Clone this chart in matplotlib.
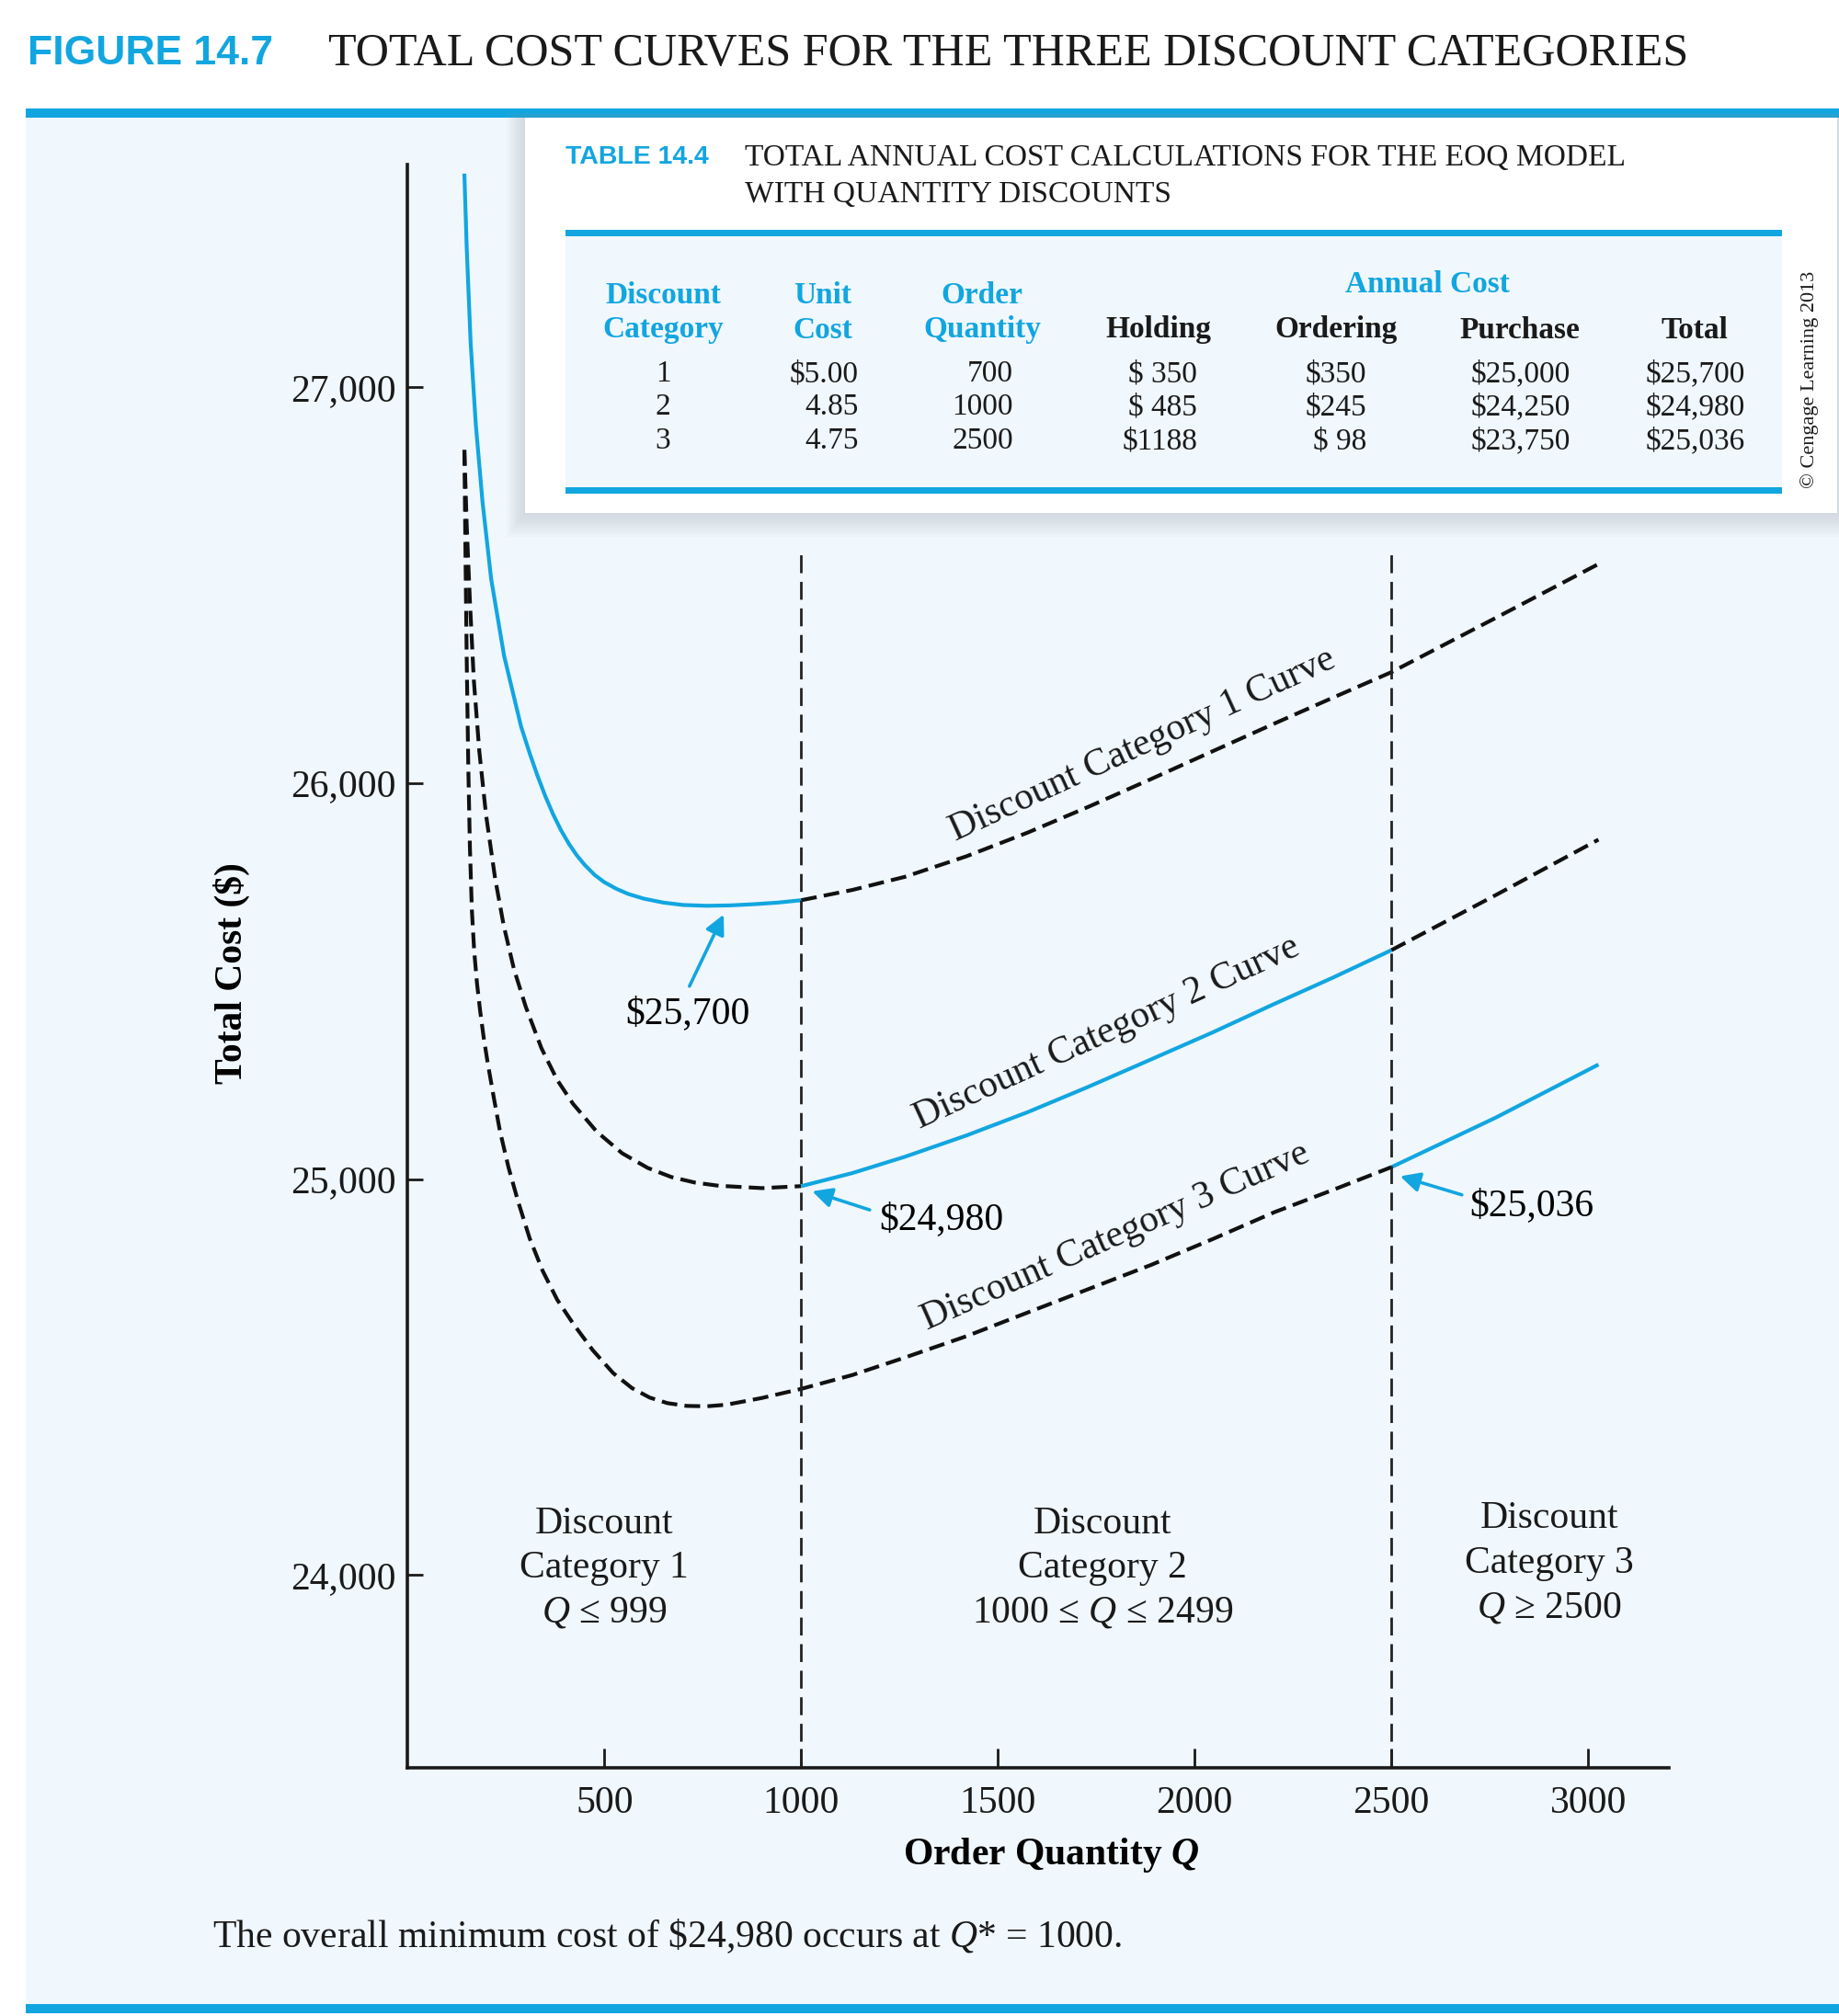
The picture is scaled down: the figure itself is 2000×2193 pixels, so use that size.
import matplotlib
matplotlib.use('Agg')
import matplotlib.pyplot as plt
from matplotlib.patches import Rectangle

plt.rcParams['font.family'] = ['Liberation Serif', 'DejaVu Serif']
plt.rcParams['mathtext.fontset'] = 'custom'
plt.rcParams['mathtext.rm'] = 'Liberation Serif'
plt.rcParams['mathtext.it'] = 'Liberation Serif:italic'
plt.rcParams['mathtext.bf'] = 'Liberation Serif:bold'
if 'mathtext.bfit' in plt.rcParams:
    plt.rcParams['mathtext.bfit'] = 'Liberation Serif:italic:bold'
    BOLD_Q = r'$\mathbfit{Q}$'
else:
    BOLD_Q = r'$\mathit{Q}$'

BLUE = '#12A6E0'
LIGHT = '#F0F7FD'
SANS = ['Liberation Sans', 'DejaVu Sans']

# ---- curve readings (order quantity Q, total cost $) ----
cat1_q_solid = [144, 150, 160, 173, 190, 212, 245, 288, 310, 330, 350, 370,
                390, 410, 430, 450, 475, 499, 530, 560, 600, 650, 700, 760,
                820, 880, 940, 1000]
cat1_tc_solid = [27539, 27350, 27110, 26906, 26711, 26516, 26321, 26143, 26075,
                 26018, 25966, 25920, 25880, 25846, 25817, 25793, 25768, 25750,
                 25733, 25720, 25708, 25698, 25692, 25690, 25691, 25694, 25698,
                 25704]
cat1_q_dash = [1000, 1130, 1263, 1420, 1576, 1730, 1889, 2045, 2202, 2350,
               2500, 2765, 3026]
cat1_tc_dash = [25704, 25730, 25763, 25815, 25875, 25940, 26010, 26080, 26150,
                26215, 26280, 26417, 26553]

cat2_q_left = [144, 150, 158, 168, 182, 199, 222, 244, 270, 300, 340, 380,
               420, 480, 545, 610, 670, 730, 790, 900, 1000]
cat2_tc_left = [26841, 26650, 26460, 26260, 26080, 25920, 25760, 25640, 25530,
                25435, 25330, 25250, 25190, 25120, 25065, 25028, 25005, 24991,
                24983, 24977, 24982]
cat2_q_solid = [1000, 1130, 1263, 1420, 1576, 1730, 1889, 2045, 2202, 2350, 2500]
cat2_tc_solid = [24982, 25015, 25056, 25110, 25169, 25233, 25302, 25370, 25442,
                 25508, 25578]
cat2_q_right = [2500, 2765, 3026]
cat2_tc_right = [25578, 25717, 25857]

cat3_q_dash = [144, 147, 150, 154, 158, 163, 169, 176, 184, 193, 203, 218, 234,
               256, 280, 310, 343, 380, 421, 470, 522, 570, 615, 660, 709, 760,
               810, 900, 1000, 1130, 1263, 1420, 1576, 1730, 1889, 2045, 2202,
               2350, 2500]
cat3_tc_dash = [26841, 26560, 26310, 26040, 25840, 25680, 25575, 25495, 25425,
                25358, 25295, 25210, 25123, 25030, 24945, 24850, 24768, 24695,
                24634, 24568, 24510, 24472, 24448, 24434, 24427, 24426, 24430,
                24447, 24470, 24505, 24549, 24603, 24663, 24722, 24783, 24848,
                24916, 24972, 25030]
cat3_q_solid = [2500, 2765, 3026]
cat3_tc_solid = [25030, 25155, 25289]

breakpoints = [1000, 2500]
break_top = 26585

x_ticks = [500, 1000, 1500, 2000, 2500, 3000]
y_ticks = [24000, 25000, 26000, 27000]
y_tick_labels = ['24,000', '25,000', '26,000', '27,000']

# ---- table 14.4 ----
table_cat = ['1', '2', '3']
table_unit = ['$5.00', '4.85', '4.75']
table_qty = ['700', '1000', '2500']
table_hold = ['$ 350', '$ 485', '$1188']
table_order = ['$350', '$245', '$ 98']
table_purchase = ['$25,000', '$24,250', '$23,750']
table_total = ['$25,700', '$24,980', '$25,036']

fig = plt.figure(figsize=(20, 21.93), dpi=100)
fig.patch.set_facecolor('white')

# background layer in pixel coordinates
bg = fig.add_axes([0, 0, 1, 1])
bg.set_xlim(0, 2000)
bg.set_ylim(2193, 0)
bg.axis('off')
bg.add_patch(Rectangle((28, 128), 1972, 2052, color=LIGHT, lw=0))
bg.add_patch(Rectangle((28, 118), 1972, 10, color=BLUE, lw=0))
bg.add_patch(Rectangle((28, 2180), 1972, 10, color=BLUE, lw=0))

bg.text(30, 59, 'FIGURE 14.7', family=SANS, weight='bold', size=32,
        color=BLUE, ha='left', va='center')
bg.text(357, 59, 'TOTAL COST CURVES FOR THE THREE DISCOUNT CATEGORIES',
        size=36.1, ha='left', va='center', color='#1a1a1a')

# table box with soft shadow
for i in range(1, 9):
    g = i * 2.5
    bg.add_patch(Rectangle((571 - g, 128 - g * 0.3), 1429 + g, 430 + g * 1.6,
                           color='#8a9099', alpha=0.035, lw=0))
bg.add_patch(Rectangle((571, 128), 1427, 430, color='white', lw=0))
bg.add_patch(Rectangle((615, 253), 1323, 280, color=LIGHT, lw=0))
bg.add_patch(Rectangle((615, 250), 1323, 7, color=BLUE, lw=0))
bg.add_patch(Rectangle((615, 530), 1323, 7, color=BLUE, lw=0))

bg.text(615, 171, 'TABLE 14.4', family=SANS, weight='bold', size=20.5,
        color=BLUE, ha='left', va='center')
bg.text(810, 172, 'TOTAL ANNUAL COST CALCULATIONS FOR THE EOQ MODEL',
        size=24.1, ha='left', va='center', color='#1a1a1a')
bg.text(810, 212, 'WITH QUANTITY DISCOUNTS', size=24.1, ha='left',
        va='center', color='#1a1a1a')

hdr = dict(size=24, weight='bold', ha='center', va='center')
bg.text(721, 322, 'Discount', color=BLUE, **hdr)
bg.text(721, 359, 'Category', color=BLUE, **hdr)
bg.text(895, 322, 'Unit', color=BLUE, **hdr)
bg.text(895, 359, 'Cost', color=BLUE, **hdr)
bg.text(1068, 322, 'Order', color=BLUE, **hdr)
bg.text(1068, 359, 'Quantity', color=BLUE, **hdr)
bg.text(1552, 310, 'Annual Cost', color=BLUE, **hdr)
for xh, name in zip([1260, 1453, 1653, 1843],
                    ['Holding', 'Ordering', 'Purchase', 'Total']):
    bg.text(xh, 359, name, color='#1a1a1a', **hdr)

row_y = [407, 443, 480]
cols = [(table_cat, 721, 'center'), (table_unit, 934, 'right'),
        (table_qty, 1102, 'right'), (table_hold, 1302, 'right'),
        (table_order, 1486, 'right'), (table_purchase, 1708, 'right'),
        (table_total, 1898, 'right')]
for values, xc, ha in cols:
    for yv, v in zip(row_y, values):
        bg.text(xc, yv, v, size=24, ha=ha, va='center', color='#1a1a1a')
bg.text(1968, 413, '\u00a9 Cengage Learning 2013', size=16, rotation=90,
        ha='center', va='center', color='#1a1a1a')

bg.text(231, 2106,
        r'The overall minimum cost of \$24,980 occurs at $Q$* = 1000.',
        size=30, ha='left', va='center', color='#1a1a1a')

# main chart
ax = fig.add_axes([0.2217, 0.1231, 0.686, 0.7953])
ax.set_facecolor('none')
ax.set_xlim(0, 3206)
ax.set_ylim(23513, 27562)
for s in ['top', 'right']:
    ax.spines[s].set_visible(False)
for s in ['left', 'bottom']:
    ax.spines[s].set_linewidth(2.6)
    ax.spines[s].set_color('#1a1a1a')

curve_dash = (0, (4.1, 1.9))
lw = 3.0
ax.plot(cat1_q_solid, cat1_tc_solid, color=BLUE, lw=lw, solid_capstyle='butt')
ax.plot(cat1_q_dash, cat1_tc_dash, color='#111111', lw=lw, ls=curve_dash)
ax.plot(cat2_q_left, cat2_tc_left, color='#111111', lw=lw, ls=curve_dash)
ax.plot(cat2_q_solid, cat2_tc_solid, color=BLUE, lw=lw, solid_capstyle='butt')
ax.plot(cat2_q_right, cat2_tc_right, color='#111111', lw=lw, ls=curve_dash)
ax.plot(cat3_q_dash, cat3_tc_dash, color='#111111', lw=lw, ls=curve_dash)
ax.plot(cat3_q_solid, cat3_tc_solid, color=BLUE, lw=lw, solid_capstyle='butt')

ax.vlines(breakpoints, 23513, break_top, color='#222222', lw=2.0,
          linestyles=[(0, (7.0, 3.4))])

ax.set_xticks(x_ticks)
ax.set_xticklabels([str(t) for t in x_ticks])
ax.set_yticks(y_ticks)
ax.set_yticklabels(y_tick_labels)
ax.tick_params(axis='x', direction='in', length=15, width=2, pad=14,
               labelsize=30, colors='#1a1a1a')
ax.tick_params(axis='y', direction='in', length=12, width=2, pad=9,
               labelsize=30, colors='#1a1a1a')

ax.set_xlabel('Order Quantity ' + BOLD_Q, size=30, weight='bold', va='center')
ax.xaxis.set_label_coords(0.51, -0.0545)
ax.set_ylabel('Total Cost ($)', size=30, weight='bold', va='center')
ax.yaxis.set_label_coords(-0.1395, 0.4954)

# curve labels
lab = dict(size=30, ha='center', va='center', rotation_mode='anchor',
           color='#1a1a1a')
ax.text(1867, 26095, 'Discount Category 1 Curve', rotation=24.6, **lab)
ax.text(1776, 25370, 'Discount Category 2 Curve', rotation=24.6, **lab)
ax.text(1800, 24855, 'Discount Category 3 Curve', rotation=23.8, **lab)

# region labels
reg = dict(size=30, ha='center', va='center', linespacing=1.34,
           color='#1a1a1a')
ax.text(499, 24017, 'Discount\nCategory 1\n$Q$ \u2264 999', **reg)
ax.text(1766, 24017, 'Discount\nCategory 2\n1000 \u2264 $Q$ \u2264 2499', **reg)
ax.text(2901, 24029, 'Discount\nCategory 3\n$Q$ \u2265 2500', **reg)

# value callouts
arrow = dict(arrowstyle='-|>', color=BLUE, lw=2.6, mutation_scale=32,
             shrinkA=0, shrinkB=0)
ax.annotate('', xy=(803, 25668), xytext=(716, 25487), arrowprops=arrow)
ax.text(712, 25416, '$25,700', size=30, ha='center', va='center')
ax.annotate('', xy=(1028, 24969), xytext=(1174, 24922), arrowprops=arrow)
ax.text(1356, 24897, '$24,980', size=30, ha='center', va='center')
ax.annotate('', xy=(2522, 25007), xytext=(2679, 24960), arrowprops=arrow)
ax.text(2857, 24932, '$25,036', size=30, ha='center', va='center')

fig.savefig('out.png', dpi=100, facecolor='white')
